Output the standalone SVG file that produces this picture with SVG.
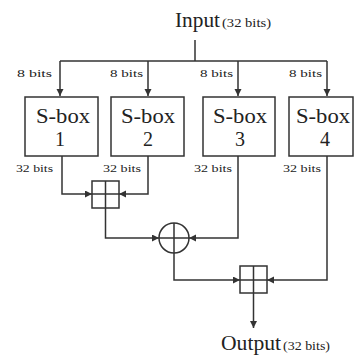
<svg xmlns="http://www.w3.org/2000/svg" width="354" height="356" viewBox="0 0 354 356">
<style>
.ln{fill:none;stroke:#333;stroke-width:1.5}
.bx{fill:#fff;stroke:#333;stroke-width:1.5}
.t{font-family:"Liberation Serif","Times New Roman",serif;fill:#222}
.big{font-size:20px}
.sm{font-size:12px}
.xs{font-size:11px}
</style>
<defs>
<marker id="ah" markerUnits="userSpaceOnUse" markerWidth="8" markerHeight="8" refX="7" refY="3.5" orient="auto">
<path d="M0,0 L7,3.5 L0,7 Z" fill="#333"/>
</marker>
</defs>
<rect width="354" height="356" fill="#fff"/>
<g id="connectors">
<path class="ln" d="M195,40 V61 M60,61 H327"/>
<path class="ln" d="M60,61 V96" marker-end="url(#ah)"/>
<path class="ln" d="M148,61 V96" marker-end="url(#ah)"/>
<path class="ln" d="M238,61 V96" marker-end="url(#ah)"/>
<path class="ln" d="M327,61 V96" marker-end="url(#ah)"/>
<path class="ln" d="M62,156 V194 H92" marker-end="url(#ah)"/>
<path class="ln" d="M148,156 V194 H119" marker-end="url(#ah)"/>
<path class="ln" d="M105.5,208 V238 H159" marker-end="url(#ah)"/>
<path class="ln" d="M238,156 V238 H189" marker-end="url(#ah)"/>
<path class="ln" d="M174,253 V280 H240" marker-end="url(#ah)"/>
<path class="ln" d="M327,156 V280 H267" marker-end="url(#ah)"/>
<path class="ln" d="M253.5,293 V328" marker-end="url(#ah)"/>
</g>
<g id="input">
<text class="t big" x="175" y="27" textLength="45" lengthAdjust="spacingAndGlyphs">Input</text>
<text class="t sm" x="222" y="27" textLength="49" lengthAdjust="spacingAndGlyphs">(32 bits)</text>
</g>
<g id="in-labels">
<text class="t xs" x="17" y="77" textLength="35" lengthAdjust="spacingAndGlyphs">8 bits</text>
<text class="t xs" x="110" y="77" textLength="33" lengthAdjust="spacingAndGlyphs">8 bits</text>
<text class="t xs" x="200" y="77" textLength="33" lengthAdjust="spacingAndGlyphs">8 bits</text>
<text class="t xs" x="289" y="77" textLength="33" lengthAdjust="spacingAndGlyphs">8 bits</text>
</g>
<g id="sbox1">
<rect class="bx" x="25" y="97" width="73" height="59"/>
<text class="t big" x="63" y="123" text-anchor="middle" textLength="54" lengthAdjust="spacingAndGlyphs">S-box</text>
<text class="t big" x="60" y="146" text-anchor="middle">1</text>
</g>
<g id="sbox2">
<rect class="bx" x="111" y="97" width="73" height="59"/>
<text class="t big" x="148" y="123" text-anchor="middle" textLength="54" lengthAdjust="spacingAndGlyphs">S-box</text>
<text class="t big" x="148" y="146" text-anchor="middle">2</text>
</g>
<g id="sbox3">
<rect class="bx" x="203" y="97" width="72" height="59"/>
<text class="t big" x="240" y="123" text-anchor="middle" textLength="54" lengthAdjust="spacingAndGlyphs">S-box</text>
<text class="t big" x="240" y="146" text-anchor="middle">3</text>
</g>
<g id="sbox4">
<rect class="bx" x="289" y="97" width="64" height="59"/>
<text class="t big" x="323" y="123" text-anchor="middle" textLength="54" lengthAdjust="spacingAndGlyphs">S-box</text>
<text class="t big" x="325" y="146" text-anchor="middle">4</text>
</g>
<g id="out-labels">
<text class="t xs" x="16" y="172" textLength="37" lengthAdjust="spacingAndGlyphs">32 bits</text>
<text class="t xs" x="103" y="172" textLength="38" lengthAdjust="spacingAndGlyphs">32 bits</text>
<text class="t xs" x="194" y="172" textLength="38" lengthAdjust="spacingAndGlyphs">32 bits</text>
<text class="t xs" x="283" y="172" textLength="38" lengthAdjust="spacingAndGlyphs">32 bits</text>
</g>
<g id="add1">
<rect class="bx" x="92" y="181" width="27" height="27"/>
<path class="ln" d="M105.5,181 V208 M92,194 H119"/>
</g>
<g id="xor">
<circle class="bx" cx="174" cy="238" r="15"/>
<path class="ln" d="M174,223 V253 M159,238 H189"/>
</g>
<g id="add2">
<rect class="bx" x="240" y="266" width="27" height="27"/>
<path class="ln" d="M253.5,266 V293 M240,280 H267"/>
</g>
<g id="output">
<text class="t big" x="221" y="350" textLength="60" lengthAdjust="spacingAndGlyphs">Output</text>
<text class="t sm" x="283" y="350" textLength="47" lengthAdjust="spacingAndGlyphs">(32 bits)</text>
</g>
</svg>
